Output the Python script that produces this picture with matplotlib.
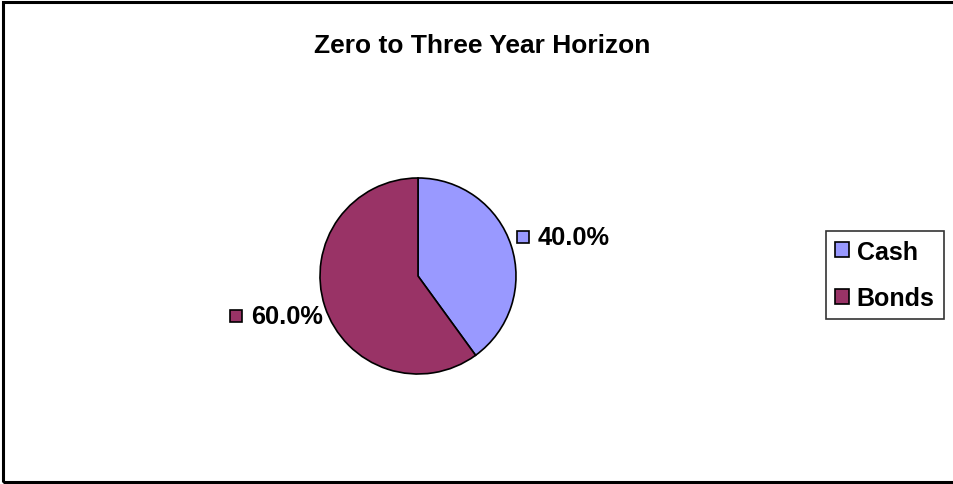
import numpy as np
import matplotlib.pyplot as plt
from matplotlib.patches import Rectangle

# data
labels = ["Cash", "Bonds"]
shares = [40.0, 60.0]
colors = ["#9999FF", "#993366"]
title = "Zero to Three Year Horizon"

W, H = 954, 485
fig = plt.figure(figsize=(W / 100, H / 100), dpi=100)
plt.rcParams['font.family'] = ['Liberation Sans', 'DejaVu Sans']

# one axes over the whole figure, units = pixels (y up)
ax = fig.add_axes([0, 0, 1, 1])

wedges, _ = ax.pie(shares, colors=colors, startangle=90, counterclock=False,
                   center=(418, 208), radius=98,
                   wedgeprops=dict(edgecolor="black", linewidth=1.2))
ax.set_xlim(0, W)
ax.set_ylim(0, H)
ax.set_aspect("auto")
ax.axis("off")

# outer chart border
ax.add_patch(Rectangle((3, 2), W + 5, H - 5, fill=False, edgecolor="black",
                       linewidth=2.2, clip_on=False))

ax.text(482, H - 46, title, ha="center", va="center", fontsize=19,
        fontweight="bold")

# data labels with small colour keys
lab_pos = [(538, H - 238, "left"), (323, H - 317, "right")]
key_pos = [(523, H - 238), (236, H - 317)]
for v, c, (x, y, ha), (kx, ky) in zip(shares, colors, lab_pos, key_pos):
    ax.text(x, y, f"{v:.1f}%", ha=ha, va="center", fontsize=18.3,
            fontweight="bold")
    ax.plot(kx, ky, marker="s", markersize=9, markerfacecolor=c,
            markeredgecolor="black", markeredgewidth=1.2)

leg = ax.legend(wedges, labels, loc="center", bbox_to_anchor=(885 / W, 1 - 276 / H),
                frameon=True, fancybox=False, edgecolor="black",
                prop=dict(size=18, weight="bold"), handlelength=0.55,
                handleheight=0.55, handletextpad=0.3, borderpad=0.36,
                labelspacing=0.9, borderaxespad=0)
leg.get_frame().set_linewidth(1.2)

fig.savefig("out.png", dpi=100)
